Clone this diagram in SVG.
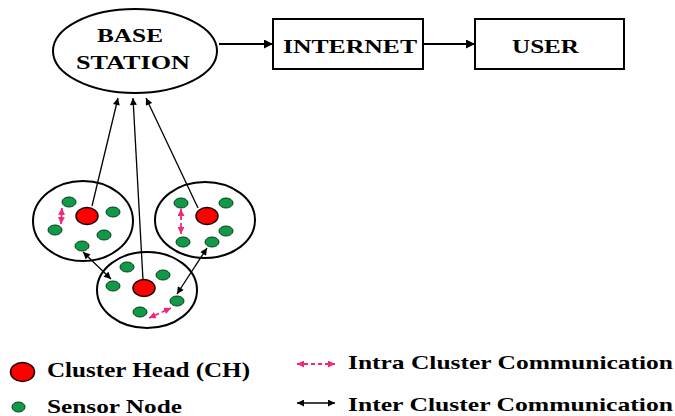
<svg xmlns="http://www.w3.org/2000/svg" width="675" height="416" viewBox="0 0 675 416">
  <style>
    .lbl { font-family: "Liberation Serif", "Times New Roman", serif; font-weight: bold; fill: #000; }
    .frame { fill: #fff; stroke: #000; stroke-width: 2; }
    .cluster { fill: none; stroke: #000; stroke-width: 2; }
    .ch { fill: #ff0000; stroke: #1a0000; stroke-width: 1.5; }
    .sn { fill: #109a48; stroke: #063b1b; stroke-width: 1; }
    .flow { fill: none; stroke: #000; stroke-width: 2; }
    .up { fill: none; stroke: #000; stroke-width: 1.3; }
    .inter { fill: none; stroke: #000; stroke-width: 1.3; }
    .intra { fill: none; stroke: #f0287a; stroke-width: 1.8; stroke-dasharray: 4 3; }
  </style>
  <defs>
    <marker id="headBig" viewBox="0 0 10 10" refX="10" refY="5" markerWidth="10" markerHeight="9" markerUnits="userSpaceOnUse" orient="auto">
      <path d="M0,0 L10,5 L0,10 Z" fill="#000"/>
    </marker>
    <marker id="headSmall" viewBox="0 0 10 10" refX="10" refY="5" markerWidth="8" markerHeight="7" markerUnits="userSpaceOnUse" orient="auto-start-reverse">
      <path d="M0,0 L10,5 L0,10 Z" fill="#000"/>
    </marker>
    <marker id="headPink" viewBox="0 0 10 10" refX="10" refY="5" markerWidth="7" markerHeight="7" markerUnits="userSpaceOnUse" orient="auto-start-reverse">
      <path d="M0,0 L10,5 L0,10 Z" fill="#f0287a"/>
    </marker>
  </defs>

  <!-- connectors -->
  <g id="connectors">
    <line class="flow" x1="219" y1="44" x2="273" y2="44" marker-end="url(#headBig)"/>
    <line class="flow" x1="423" y1="44" x2="475" y2="44" marker-end="url(#headBig)"/>
    <line class="up" x1="92" y1="206" x2="118" y2="98" marker-end="url(#headSmall)"/>
    <line class="up" x1="143" y1="280" x2="133" y2="98" marker-end="url(#headSmall)"/>
    <line class="up" x1="198" y1="208" x2="146" y2="98" marker-end="url(#headSmall)"/>
    <line class="inter" x1="83" y1="252" x2="111" y2="279" marker-start="url(#headSmall)" marker-end="url(#headSmall)"/>
    <line class="inter" x1="207" y1="248" x2="177" y2="294" marker-start="url(#headSmall)" marker-end="url(#headSmall)"/>
    <line class="intra" x1="62" y1="208" x2="61" y2="224" marker-start="url(#headPink)" marker-end="url(#headPink)"/>
    <line class="intra" x1="181" y1="209" x2="181" y2="234" marker-start="url(#headPink)" marker-end="url(#headPink)"/>
    <line class="intra" x1="149" y1="318" x2="171" y2="308" marker-start="url(#headPink)" marker-end="url(#headPink)"/>
  </g>

  <g id="base-station">
    <ellipse class="frame" cx="135" cy="51" rx="82" ry="42"/>
    <text class="lbl" x="97" y="42" font-size="19" textLength="66" lengthAdjust="spacingAndGlyphs">BASE</text>
    <text class="lbl" x="76" y="69" font-size="19" textLength="114" lengthAdjust="spacingAndGlyphs">STATION</text>
  </g>

  <g id="internet">
    <rect class="frame" x="273" y="19" width="150" height="50"/>
    <text class="lbl" x="283" y="53" font-size="19" textLength="134" lengthAdjust="spacingAndGlyphs">INTERNET</text>
  </g>

  <g id="user">
    <rect class="frame" x="475" y="19" width="149" height="50"/>
    <text class="lbl" x="512" y="53" font-size="19" textLength="67" lengthAdjust="spacingAndGlyphs">USER</text>
  </g>

  <g id="cluster-left">
    <ellipse class="cluster" cx="83" cy="221" rx="50" ry="40"/>
    <ellipse class="ch" cx="87" cy="216" rx="11" ry="8.5"/>
    <ellipse class="sn" cx="69" cy="202" rx="7" ry="5"/>
    <ellipse class="sn" cx="113" cy="212" rx="7" ry="5"/>
    <ellipse class="sn" cx="55" cy="230" rx="7" ry="5"/>
    <ellipse class="sn" cx="104" cy="235" rx="7" ry="5"/>
    <ellipse class="sn" cx="82" cy="246" rx="7" ry="5"/>
  </g>

  <g id="cluster-right">
    <ellipse class="cluster" cx="205" cy="220" rx="50" ry="38"/>
    <ellipse class="ch" cx="207" cy="216" rx="11" ry="8.5"/>
    <ellipse class="sn" cx="181" cy="203" rx="7" ry="5"/>
    <ellipse class="sn" cx="226" cy="203" rx="7" ry="5"/>
    <ellipse class="sn" cx="226" cy="231" rx="7" ry="5"/>
    <ellipse class="sn" cx="183" cy="242" rx="7" ry="5"/>
    <ellipse class="sn" cx="212" cy="242" rx="7" ry="5"/>
  </g>

  <g id="cluster-bottom">
    <ellipse class="cluster" cx="147" cy="290" rx="50" ry="38"/>
    <ellipse class="ch" cx="144" cy="288" rx="11" ry="8.5"/>
    <ellipse class="sn" cx="127" cy="267" rx="7" ry="5"/>
    <ellipse class="sn" cx="163" cy="275" rx="7" ry="5"/>
    <ellipse class="sn" cx="113" cy="286" rx="7" ry="5"/>
    <ellipse class="sn" cx="177" cy="301" rx="7" ry="5"/>
    <ellipse class="sn" cx="140" cy="312" rx="7" ry="5"/>
  </g>

  <g id="legend">
    <ellipse class="ch" cx="22.5" cy="372" rx="12" ry="9.5"/>
    <text class="lbl" x="47" y="377" font-size="20" textLength="203" lengthAdjust="spacingAndGlyphs">Cluster Head (CH)</text>
    <ellipse class="sn" cx="18.5" cy="407" rx="6.5" ry="5"/>
    <text class="lbl" x="47" y="413" font-size="19" textLength="135" lengthAdjust="spacingAndGlyphs">Sensor Node</text>
    <line class="intra" x1="297" y1="364" x2="335" y2="364" marker-start="url(#headPink)" marker-end="url(#headPink)"/>
    <text class="lbl" x="348" y="369" font-size="19" textLength="325" lengthAdjust="spacingAndGlyphs">Intra Cluster Communication</text>
    <line class="inter" x1="297" y1="403" x2="335" y2="403" marker-start="url(#headSmall)" marker-end="url(#headSmall)"/>
    <text class="lbl" x="348" y="411" font-size="19" textLength="325" lengthAdjust="spacingAndGlyphs">Inter Cluster Communication</text>
  </g>
</svg>
